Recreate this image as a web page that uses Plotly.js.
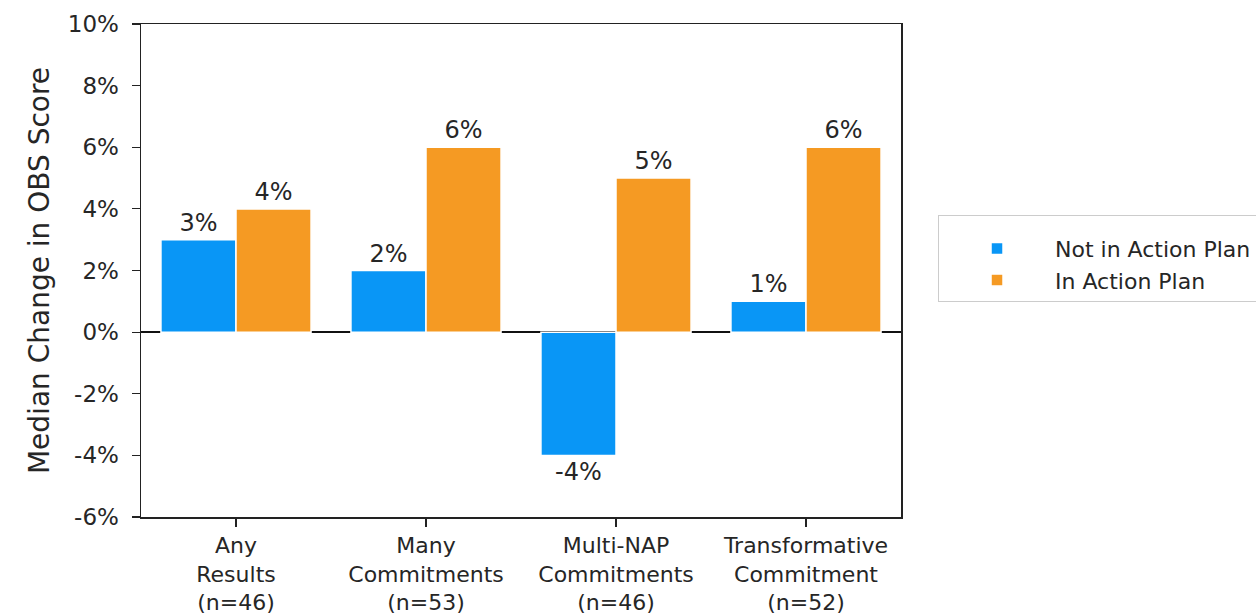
<!DOCTYPE html>
<html>
<head>
<meta charset="utf-8">
<script src="https://cdn.plot.ly/plotly-3.0.1.min.js"></script>
<style>html,body{margin:0;padding:0;background:#fff;}#chart{width:1256px;height:616px;}</style>
</head>
<body>
<div id="chart"></div>
<script>
const categories = ["Any<br>Results<br>(n=46)", "Many<br>Commitments<br>(n=53)", "Multi-NAP<br>Commitments<br>(n=46)", "Transformative<br>Commitment<br>(n=52)"];
const notInPlan = [3, 2, -4, 1];
const inPlan = [4, 6, 5, 6];
const seriesNames = ["Not in Action Plan", "In Action Plan"];
const yTickVals = [-6, -4, -2, 0, 2, 4, 6, 8, 10];
const yTickText = ["-6%", "-4%", "-2%", "0%", "2%", "4%", "6%", "8%", "10%"];

const font = "DejaVu Sans, sans-serif";
const textColor = "#262626";

const traces = [
  {
    type: "bar", name: seriesNames[0], x: categories, y: notInPlan,
    text: notInPlan.map(v => v + "%"), texttemplate: "%{text}",
    marker: {color: "#0996f6", line: {color: "#ffffff", width: 1.5}},
    textposition: "outside", cliponaxis: false,
    textfont: {family: font, size: 24, color: textColor},
    hoverinfo: "skip"
  },
  {
    type: "bar", name: seriesNames[1], x: categories, y: inPlan,
    text: inPlan.map(v => v + "%"), texttemplate: "%{text}",
    marker: {color: "#f59a23", line: {color: "#ffffff", width: 1.5}},
    textposition: "outside", cliponaxis: false,
    textfont: {family: font, size: 24, color: textColor},
    hoverinfo: "skip"
  }
];

const layout = {
  width: 1256, height: 616,
  margin: {l: 141, r: 355, t: 24, b: 99, pad: 0, autoexpand: false},
  paper_bgcolor: "#fff", plot_bgcolor: "#fff",
  font: {family: font, color: textColor, size: 23},
  barmode: "group", bargap: 0.21, bargroupgap: 0,
  showlegend: true,
  legend: {
    x: 1.0487, y: 0.6126, xanchor: "left", yanchor: "top",
    bordercolor: "#cccccc", borderwidth: 1, bgcolor: "#fff",
    font: {family: font, size: 22, color: textColor},
    itemwidth: 106, tracegroupgap: 0,
    title: {text: " ", font: {size: 9}}
  },
  xaxis: {
    type: "category", range: [-0.5, 3.5],
    showline: true, mirror: true, linecolor: "#222", linewidth: 1.5,
    ticks: "outside", ticklen: 8, tickwidth: 1.2, tickcolor: "#222",
    showgrid: false, zeroline: false,
    tickfont: {family: font, size: 22, color: textColor}
  },
  yaxis: {
    range: [-6, 10], tickmode: "array", tickvals: yTickVals, ticktext: yTickText,
    showline: true, mirror: true, linecolor: "#222", linewidth: 1.5,
    ticks: "outside", ticklen: 8, tickwidth: 1.2, tickcolor: "#222",
    ticklabelstandoff: 8,
    showgrid: false, zeroline: true, zerolinecolor: "#111", zerolinewidth: 1.5,
    tickfont: {family: font, size: 23, color: textColor},
    title: {text: "Median Change in OBS Score", font: {family: font, size: 28, color: textColor}, standoff: 10}
  }
};

Plotly.newPlot("chart", traces, layout, {displayModeBar: false, staticPlot: true});
</script>
</body>
</html>
